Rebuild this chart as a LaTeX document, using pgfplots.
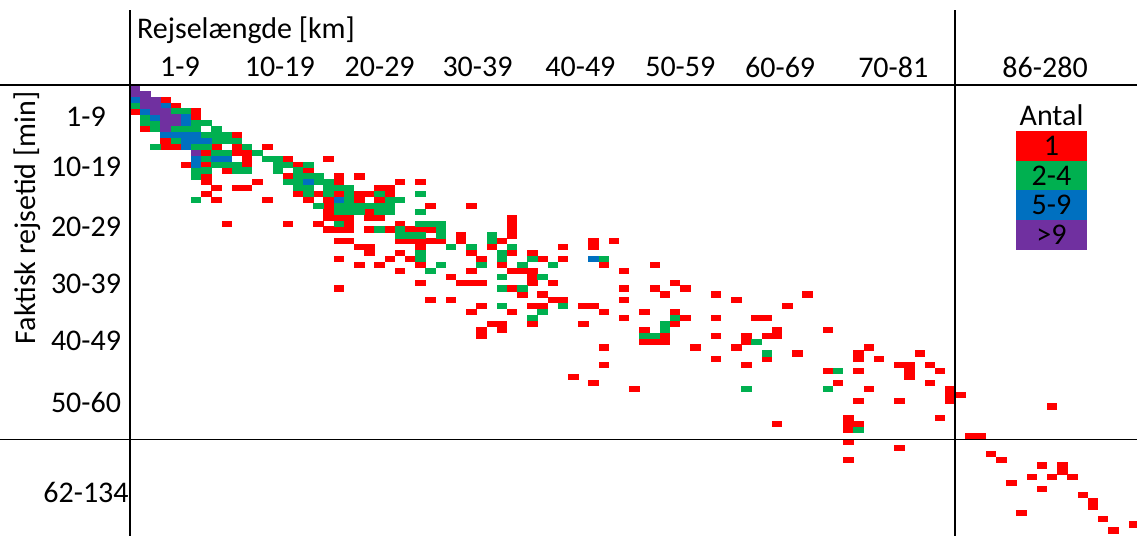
\documentclass[border=0pt]{standalone}
\usepackage{fontspec}
\setmainfont{Carlito}
\usepackage{pgfplots}
\pgfplotsset{compat=1.18}
\definecolor{cR}{HTML}{FF0000}
\definecolor{cG}{HTML}{00B050}
\definecolor{cB}{HTML}{0070C0}
\definecolor{cP}{HTML}{7030A0}
\pgfdeclareplotmark{cell}{\pgfpathrectangle{\pgfpoint{-2.62pt}{-1.53pt}}{\pgfpoint{5.24pt}{3.06pt}}\pgfusepathqfill}
\begin{document}
\begin{tikzpicture}[font=\fontsize{15}{18}\selectfont]
\begin{axis}[
  scale only axis, width=503.5pt, height=225.5pt,
  xmin=0, xmax=98.82, ymin=-76.44, ymax=0,
  axis x line*=top, axis y line*=left,
  axis line style={draw=none},
  major tick length=0pt,
  xtick={4.9,14.7,24.5,34.1,44.2,54,63.8,74.9,89.8},
  xticklabels={1-9,10-19,20-29,30-39,40-49,50-59,60-69,70-81,86-280},
  ytick={-68.98,-53.73,-43.39,-33.73,-24.07,-13.9,-5.42},
  yticklabels={62-134,50-60,40-49,30-39,20-29,10-19,1-9},
  xticklabel style={anchor=center, yshift=9pt, font=\fontsize{15}{18}\selectfont},
  yticklabel style={anchor=center, xshift=-22pt, font=\fontsize{15}{18}\selectfont},
  clip mode=individual,
]
\addplot[only marks, mark=cell, color=cR, mark options={fill=cR, draw=none}]
 table[x expr=\thisrow{c}-0.5, y expr=-\thisrow{r}+0.5] {
c r
4 3
5 4
1 5
7 5
7 6
2 8
11 9
4 10
4 11
5 11
9 11
11 11
14 11
8 12
11 12
12 12
12 13
16 13
20 13
6 14
8 14
12 14
17 14
10 15
18 15
8 16
16 16
21 16
23 16
8 17
13 17
21 17
27 17
29 17
9 18
11 18
12 18
25 18
26 18
8 19
17 19
19 19
21 19
23 19
24 19
26 19
9 20
14 20
18 20
20 20
23 20
25 20
20 21
30 21
34 21
20 22
24 22
20 23
21 23
22 23
24 23
25 23
38 23
10 24
16 24
19 24
22 24
27 24
38 24
20 25
21 25
22 25
24 25
26 25
28 25
29 25
30 25
38 25
33 26
38 26
21 27
22 27
27 27
28 27
29 27
30 27
31 27
33 27
37 27
46 27
48 27
23 28
24 28
29 28
36 28
43 28
46 28
24 29
27 29
34 29
38 29
40 29
21 30
26 30
28 30
35 30
41 30
43 30
23 31
25 31
29 31
37 31
47 31
52 31
27 32
34 32
38 32
39 32
40 32
49 32
32 33
40 33
29 34
33 34
34 34
35 34
40 34
42 34
54 34
21 35
38 35
49 35
52 35
55 35
39 36
41 36
53 36
58 36
67 36
30 37
32 37
42 37
43 37
49 37
60 37
35 38
40 38
41 38
45 38
46 38
65 38
34 39
38 39
47 39
51 39
54 39
49 40
55 40
58 40
62 40
63 40
36 41
37 41
40 41
45 41
54 41
35 42
37 42
51 42
64 42
69 42
35 43
53 43
58 43
61 43
63 43
64 43
51 44
52 44
53 44
61 44
47 45
56 45
60 45
73 45
66 46
72 46
78 46
58 47
63 47
72 47
74 47
47 48
61 48
76 48
77 48
79 48
69 49
72 49
77 49
80 49
44 50
77 50
46 51
70 51
79 51
50 52
73 52
81 52
81 53
82 53
72 54
76 54
81 54
91 55
71 57
80 57
64 58
71 58
72 58
71 59
83 60
84 60
71 61
76 62
85 63
71 64
86 64
90 65
92 65
92 66
89 67
91 67
93 67
87 68
90 69
94 70
95 71
95 72
88 73
96 74
99 75
97 76
98 77
};
\addplot[only marks, mark=cell, color=cG, mark options={fill=cG, draw=none}]
 table[x expr=\thisrow{c}-0.5, y expr=-\thisrow{r}+0.5] {
c r
1 4
5 5
6 5
2 6
2 7
3 7
7 7
8 7
3 8
5 8
6 8
7 8
9 8
8 9
9 9
10 9
5 10
9 10
10 10
11 10
3 11
7 11
8 11
12 11
9 12
10 12
13 12
8 13
14 13
15 13
9 14
10 14
11 14
15 14
16 14
18 14
7 15
8 15
11 15
12 15
15 15
17 15
7 16
17 16
18 16
19 16
16 17
17 17
19 17
20 17
17 18
18 18
20 18
21 18
22 18
18 19
20 19
22 19
25 19
29 19
7 20
22 20
26 20
27 20
19 21
21 21
22 21
23 21
24 21
25 21
26 21
21 22
22 22
23 22
25 22
26 22
29 22
21 24
29 24
30 24
31 24
25 25
27 25
31 25
27 26
28 26
29 26
31 26
36 26
36 27
32 28
34 28
38 28
29 29
37 29
29 30
37 30
40 30
47 30
31 31
35 31
39 31
42 31
30 32
37 33
41 33
37 35
39 35
37 38
43 38
41 39
40 40
54 40
53 41
53 42
51 43
52 43
62 44
63 46
70 49
61 52
69 52
72 59
};
\addplot[only marks, mark=cell, color=cB, mark options={fill=cB, draw=none}]
 table[x expr=\thisrow{c}-0.5, y expr=-\thisrow{r}+0.5] {
c r
1 3
4 4
2 5
3 6
6 6
6 7
4 9
5 9
6 9
7 9
6 10
7 10
8 10
6 11
7 13
9 13
10 13
7 14
18 17
21 20
46 30
};
\addplot[only marks, mark=cell, color=cP, mark options={fill=cP, draw=none}]
 table[x expr=\thisrow{c}-0.5, y expr=-\thisrow{r}+0.5] {
c r
1 1
1 2
2 2
2 3
3 3
2 4
3 4
3 5
4 5
4 6
5 6
4 7
5 7
4 8
7 12
};
% frame lines
\draw[black, line width=0.75pt] (axis cs:0,12.71) -- (axis cs:0,-76.44);
\draw[black, line width=0.75pt] (axis cs:80.98,12.71) -- (axis cs:80.98,-76.44);
\draw[black, line width=0.75pt] (axis cs:-12.76,0) -- (axis cs:98.82,0);
\draw[black, line width=0.75pt] (axis cs:-12.76,-60.05) -- (axis cs:98.82,-60.05);
% axis titles
\node at (axis cs:11.38,9.32) {Rejselængde [km]};
\node[rotate=90] at (axis cs:-10.11,-22.54) {Faktisk rejsetid [min]};
% colour key
\node at (axis cs:90.43,-5.08) {Antal};
\fill[cR] (axis cs:86.95,-7.80) rectangle (axis cs:93.92,-12.83);
\fill[cG] (axis cs:86.95,-12.83) rectangle (axis cs:93.92,-17.80);
\fill[cB] (axis cs:86.95,-17.80) rectangle (axis cs:93.92,-22.88);
\fill[cP] (axis cs:86.95,-22.88) rectangle (axis cs:93.92,-27.97);
\node at (axis cs:90.43,-10.3) {1};
\node at (axis cs:90.43,-15.3) {2-4};
\node at (axis cs:90.43,-20.35) {5-9};
\node at (axis cs:90.43,-25.4) {>9};
\coordinate (TL) at (axis cs:-12.76,14.41);
\coordinate (BR) at (axis cs:98.82,-76.44);
\end{axis}
\pgfresetboundingbox
\path[use as bounding box] (TL) rectangle (BR);
\end{tikzpicture}
\end{document}
